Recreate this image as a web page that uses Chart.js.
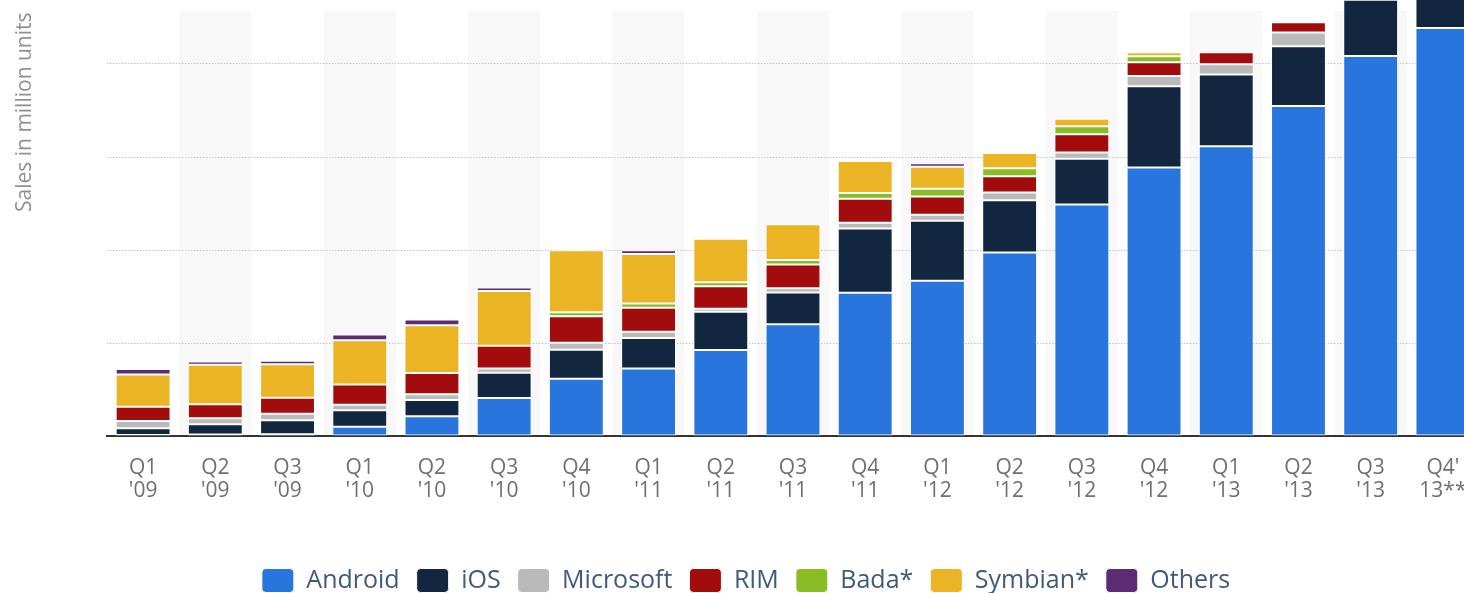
<!DOCTYPE html>
<html>
<head>
<meta charset="utf-8">
<script src="https://cdn.jsdelivr.net/npm/chart.js@4/dist/chart.umd.min.js"></script>
<style>
  html, body { margin: 0; padding: 0; background: #ffffff; overflow: hidden; width: 1464px; height: 593px; }
  #wrap { position: absolute; left: 13px; top: -40px; width: 1477px; height: 643px; }
  #ytitle {
    position: absolute; left: 13px; top: 212px; transform-origin: left top; transform: rotate(-90deg);
    font-family: "Open Sans", sans-serif; font-size: 21px; line-height: 1; color: #8f8f8f; white-space: nowrap;
  }
</style>
</head>
<body>
<div id="wrap"><canvas id="c" width="1477" height="643"></canvas></div>
<div id="ytitle">Sales in million units</div>
<script>
const categories = ["Q1 '09","Q2 '09","Q3 '09","Q1 '10","Q2 '10","Q3 '10","Q4 '10","Q1 '11","Q2 '11","Q3 '11","Q4 '11","Q1 '12","Q2 '12","Q3 '12","Q4 '12","Q1 '13","Q2 '13","Q3 '13","Q4 '13**"];
const tickLabels = [["Q1","'09"],["Q2","'09"],["Q3","'09"],["Q1","'10"],["Q2","'10"],["Q3","'10"],["Q4","'10"],["Q1","'11"],["Q2","'11"],["Q3","'11"],["Q4","'11"],["Q1","'12"],["Q2","'12"],["Q3","'12"],["Q4","'12"],["Q1","'13"],["Q2","'13"],["Q3","'13"],["Q4'","13**"]];

const android   = [0.6, 0.8, 1.0, 5.0, 10.6, 20.4, 30.8, 36.3, 46.2, 60.1, 77.0, 83.5, 98.7, 124.5, 144.3, 155.8, 177.4, 204.3, 219.4];
const ios       = [3.6, 5.5, 7.5, 8.8, 8.7, 13.6, 15.6, 16.4, 20.6, 17.0, 34.6, 32.2, 28.0, 24.6, 43.7, 38.6, 32.2, 30.3, 50.2];
const microsoft = [3.9, 3.3, 3.5, 3.0, 3.1, 2.3, 3.8, 3.4, 1.6, 2.3, 3.1, 3.3, 4.2, 3.3, 5.5, 5.5, 7.4, 8.9, 8.8];
const rim       = [7.6, 7.5, 8.6, 10.9, 11.5, 12.2, 14.2, 12.9, 12.1, 12.8, 12.9, 9.7, 8.7, 9.8, 7.5, 6.4, 5.5, 4.4, 1.8];
const bada      = [0, 0, 0, 0, 0, 0, 2.1, 2.2, 2.2, 2.4, 3.1, 4.2, 4.3, 4.3, 3.2, 0, 0, 0, 0];
const symbian   = [17.4, 21.2, 18.0, 23.8, 25.7, 29.5, 33.3, 26.7, 23.4, 19.2, 17.2, 11.9, 8.2, 4.0, 2.1, 0, 0, 0, 0];
const others    = [2.9, 1.8, 1.8, 3.1, 3.0, 1.9, 0, 1.9, 0, 0, 0, 1.9, 0, 0, 0, 0, 0, 0, 0];

const seriesNames = ["Android", "iOS", "Microsoft", "RIM", "Bada*", "Symbian*", "Others"];
const seriesData = [android, ios, microsoft, rim, bada, symbian, others];
const seriesColors = ["#2876dd", "#12273f", "#bababa", "#a30c0c", "#8abd24", "#ebb425", "#5d2a74"];

const bandsPlugin = {
  id: 'bands',
  beforeDraw(chart) {
    const {ctx, chartArea} = chart;
    const x = chart.scales.x;
    ctx.save();
    ctx.fillStyle = '#ffffff';
    ctx.fillRect(0, 0, chart.width, chart.height);
    const w = x.width / categories.length;
    ctx.fillStyle = '#f8f8f8';
    const top = chartArea.top + 40;
    for (let i = 1; i < categories.length; i += 2) {
      const cx = x.getPixelForValue(i);
      ctx.fillRect(cx - w / 2, top, w, chartArea.bottom - top);
    }
    ctx.restore();
  }
};

new Chart(document.getElementById('c'), {
  type: 'bar',
  data: {
    labels: tickLabels,
    datasets: seriesNames.map((n, i) => ({
      label: n,
      data: seriesData[i],
      backgroundColor: seriesColors[i],
      borderColor: '#ffffff',
      borderWidth: 1,
      borderSkipped: false,
      categoryPercentage: 1,
      barPercentage: 0.76
    }))
  },
  options: {
    responsive: false,
    animation: false,
    devicePixelRatio: 1,
    layout: { padding: { left: 0, right: 11, top: 11, bottom: 0 } },
    plugins: {
      tooltip: { enabled: false },
      legend: {
        position: 'bottom',
        labels: {
          boxWidth: 32, boxHeight: 24, padding: 17, useBorderRadius: true, borderRadius: 4,
          color: '#41597a',
          font: { family: '"Open Sans", sans-serif', size: 25 }
        }
      }
    },
    scales: {
      x: {
        stacked: true,
        grid: { display: false, drawTicks: false },
        border: { display: true, color: '#333333', width: 2 },
        ticks: {
          autoSkip: false, maxRotation: 0, minRotation: 0, padding: 20,
          color: '#6f6f6f',
          font: { family: '"Open Sans", sans-serif', size: 21, lineHeight: 1.1 }
        },
        afterFit(scale) { scale.height = 115; }
      },
      y: {
        stacked: true,
        min: 0, max: 250,
        ticks: { display: false, stepSize: 50 },
        grid: {
          drawTicks: false,
          color: (ctx) => ctx.tick && ctx.tick.value === 0 ? 'rgba(0,0,0,0)' : '#c4c4c4',
          lineWidth: 1
        },
        border: { display: false, dash: [1.5, 1.5] },
        afterFit(scale) { scale.width = 94; }
      }
    }
  },
  plugins: [bandsPlugin]
});
</script>
</body>
</html>
